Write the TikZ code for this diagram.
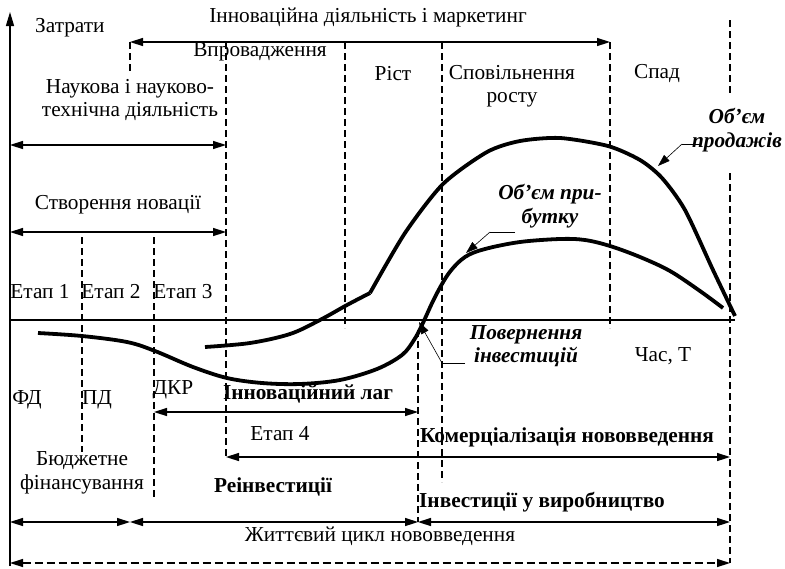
\documentclass[tikz,border=0pt]{standalone}
\usepackage{fontspec}
\setmainfont{Liberation Serif}
\usetikzlibrary{arrows.meta}
\begin{document}
\begin{tikzpicture}[x=1pt,y=-1pt,
  every node/.style={font=\fontsize{21.3}{23.5}\selectfont, inner sep=0pt, align=center},
  bl/.style={font=\fontsize{21.3}{23.5}\selectfont\bfseries},
  bi/.style={font=\fontsize{21.3}{23.5}\selectfont\bfseries\itshape},
  tip/.tip={Triangle[length=13pt,width=8pt]},
  dim/.style={line width=1.5pt, tip-tip},
  guide/.style={line width=1.4pt, dash pattern=on 7pt off 4pt},
  curve/.style={line width=3.8pt, line join=round},
  lead/.style={line width=0.6pt},
  leadtip/.style={line width=0.6pt, -{Triangle[length=12pt,width=8pt]}},
]
\useasboundingbox (0,0) rectangle (785,568);

% ---------- coordinates ----------
\coordinate (yb) at (10,566);
\coordinate (yt) at (10,12);
\coordinate (x0) at (10,320);
\coordinate (x1) at (735,320);

\coordinate (ia1) at (130,42);  \coordinate (ia2) at (610,42);
\coordinate (sc1) at (10,145);  \coordinate (sc2) at (226,145);
\coordinate (cr1) at (10,232);  \coordinate (cr2) at (226,232);
\coordinate (lg1) at (154,412); \coordinate (lg2) at (418,412);
\coordinate (cm1) at (226,457); \coordinate (cm2) at (730,457);
\coordinate (lc0) at (10,522);  \coordinate (lc1) at (130,522);
\coordinate (lc2) at (418,522); \coordinate (lc3) at (730,522);
\coordinate (bd1) at (10,563);  \coordinate (bd2) at (730,563);

% ---------- dashed guides ----------
\draw[guide] (130,42) -- (130,72);
\draw[guide] (226,42) -- (226,457);
\draw[guide] (345,42) -- (345,328);
\draw[guide] (442,42) -- (442,482);
\draw[guide] (610,42) -- (610,328);
\draw[guide] (730,20) -- (730,95);
\draw[guide] (730,173) -- (730,563);
\draw[guide] (82,237) -- (82,452);
\draw[guide] (154,237) -- (154,497);
\draw[guide] (418,330) -- (418,522);

% ---------- axes ----------
\draw[line width=1.3pt, -{Triangle[length=14pt,width=8pt]}] (yb) -- (yt);
\draw[line width=1.3pt] (x0) -- (x1);

% ---------- dimension arrows ----------
\draw[dim] (ia1) -- (ia2);
\draw[dim] (sc1) -- (sc2);
\draw[dim] (cr1) -- (cr2);
\draw[dim] (lg1) -- (lg2);
\draw[dim] (cm1) -- (cm2);
\draw[dim] (lc0) -- (lc1);
\draw[dim] (lc1) -- (lc2);
\draw[dim] (lc2) -- (lc3);
\draw[line width=1.4pt, dash pattern=on 8pt off 4pt, tip-tip] (bd1) -- (bd2);

% ---------- curves ----------
\draw[curve] plot[smooth, tension=0.55] coordinates {
  (205,347) (250,343) (290,334) (320,320) (347,305) (370,293)};
\draw[curve] plot[smooth, tension=0.45] coordinates {
  (370,293) (405,233) (443,184) (487,152) (520,141) (560,138)
  (608,146) (640,160) (662,178) (685,210) (713,270) (735,316)};
\draw[curve] plot[smooth, tension=0.55] coordinates {
  (38,333) (82,336) (127,342) (155,351) (193,367) (227,378) (262,383)
  (300,384) (340,380) (377,369) (402,355) (414,340) (422,325)
  (435,297) (449,273) (465,257) (485,249) (520,242) (560,239)
  (585,240) (610,246) (640,257) (670,271) (700,291) (723,308)};

% ---------- labels ----------
\node[anchor=west] (zat) at (35,28) {Затрати};
\node (ida) at (368,17) {Інноваційна діяльність і маркетинг};
\node (vpr) at (260,52) {Впровадження};
\node (rist) at (393,74) {Ріст};
\node (spov) at (512,86) {Сповільнення\\росту};
\node (spad) at (657,74) {Спад};
\node (nauk) at (130,100) {Наукова і науково-\\технічна діяльність};
\node (stv) at (118,205) {Створення новації};
\node (e1) at (40,292) {Етап 1};
\node (e2) at (111,292) {Етап 2};
\node (e3) at (183,292) {Етап 3};
\node (fd) at (27,400) {ФД};
\node (pd) at (97,400) {ПД};
\node (dkr) at (173,390) {ДКР};
\node[bl] (lag) at (308,394) {Інноваційний лаг};
\node (e4) at (280,434) {Етап 4};
\node (bud) at (82,473) {Бюджетне\\фінансування};
\node[bl] (reinv) at (273,487) {Реінвестиції};
\node[bl] (kom) at (567,437) {Комерціалізація нововведення};
\node[bl] (inv) at (542,502) {Інвестиції у виробництво};
\node (zht) at (380,536) {Життєвий цикл нововведення};
\node (chas) at (663,356) {Час, Т};
\node[bi] (pov) at (526,346) {Повернення\\інвестицій};
\node[bi] (prib) at (550,206) {Об’єм при-\\бутку};
\node[bi] (prod) at (737,130) {Об’єм\\продажів};

% ---------- leaders ----------
\coordinate (pl1) at (442,363); \coordinate (pl2) at (465,363); \coordinate (pt) at (419,322);
\draw[lead] (pl2) -- (pl1);
\draw[leadtip] (pl1) -- (pt);
\coordinate (bl1) at (490,232); \coordinate (bl2) at (515,232); \coordinate (bt) at (466,253);
\draw[lead] (bl2) -- (bl1);
\draw[leadtip] (bl1) -- (bt);
\coordinate (sl1) at (682,144); \coordinate (sl2) at (700,144); \coordinate (st) at (658,166);
\draw[lead] (sl2) -- (sl1);
\draw[leadtip] (sl1) -- (st);
\end{tikzpicture}
\end{document}
